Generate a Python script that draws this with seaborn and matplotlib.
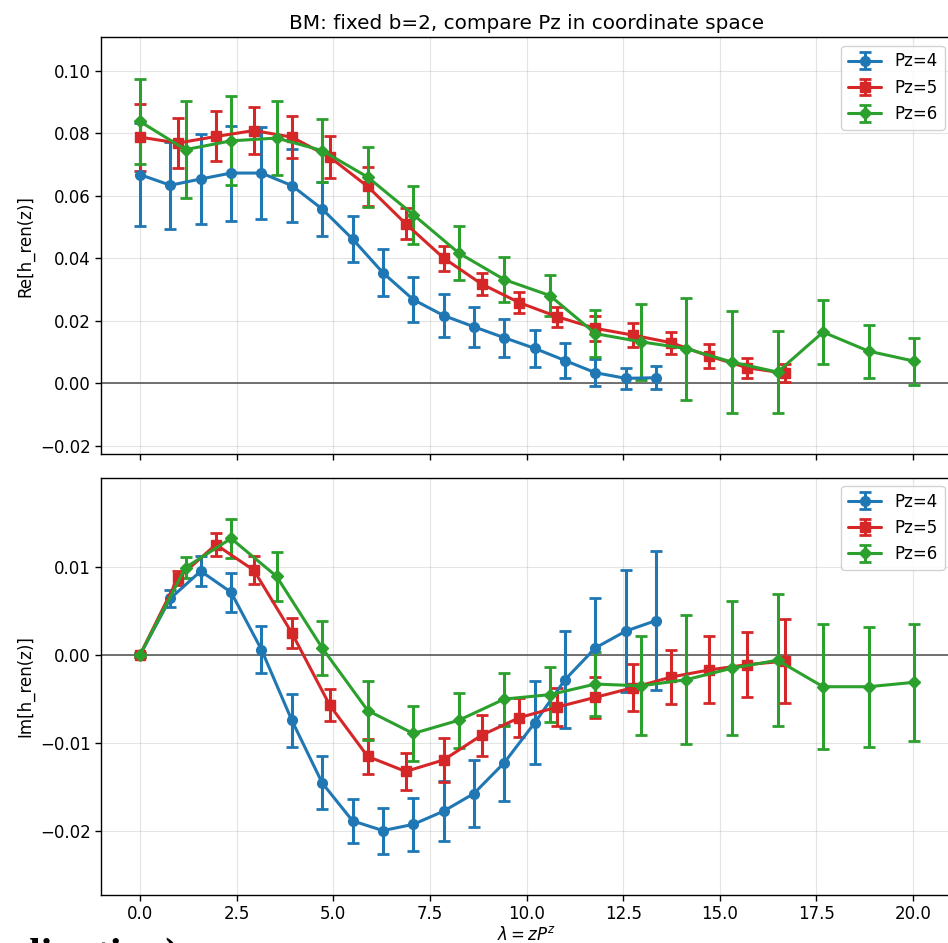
import matplotlib
matplotlib.use("Agg")
import matplotlib.pyplot as plt
import seaborn as sns

# ---------------- data ----------------
lam_pz4 = [0.0, 0.785, 1.571, 2.356, 3.142, 3.927, 4.712, 5.498, 6.283, 7.069,
           7.854, 8.639, 9.425, 10.210, 10.996, 11.781, 12.566, 13.352]
lam_pz5 = [0.0, 0.982, 1.963, 2.945, 3.927, 4.909, 5.890, 6.872, 7.854, 8.836,
           9.817, 10.799, 11.781, 12.763, 13.744, 14.726, 15.708, 16.690]
lam_pz6 = [0.0, 1.178, 2.356, 3.534, 4.712, 5.890, 7.069, 8.247, 9.425, 10.603,
           11.781, 12.959, 14.137, 15.315, 16.493, 17.671, 18.850, 20.028]

re_pz4 = [0.0668, 0.0634, 0.0654, 0.0673, 0.0673, 0.0633, 0.0558, 0.0462, 0.0354, 0.0268,
          0.0217, 0.0181, 0.0146, 0.0112, 0.0073, 0.0034, 0.0016, 0.0018]
re_err_pz4 = [0.0165, 0.0139, 0.0143, 0.0152, 0.0146, 0.0118, 0.0087, 0.0074, 0.0075, 0.0072,
              0.0069, 0.0064, 0.0061, 0.0059, 0.0055, 0.0043, 0.0033, 0.0037]
re_pz5 = [0.0788, 0.0769, 0.0790, 0.0809, 0.0788, 0.0724, 0.0630, 0.0511, 0.0401, 0.0318,
          0.0258, 0.0213, 0.0176, 0.0154, 0.0130, 0.0087, 0.0050, 0.0032]
re_err_pz5 = [0.0107, 0.0080, 0.0080, 0.0075, 0.0068, 0.0066, 0.0061, 0.0050, 0.0040, 0.0035,
              0.0033, 0.0032, 0.0039, 0.0038, 0.0035, 0.0038, 0.0032, 0.0029]
re_pz6 = [0.0838, 0.0748, 0.0776, 0.0785, 0.0745, 0.0660, 0.0540, 0.0417, 0.0332, 0.0281,
          0.0159, 0.0133, 0.0111, 0.0068, 0.0036, 0.0164, 0.0103, 0.0071]
re_err_pz6 = [0.0136, 0.0156, 0.0142, 0.0117, 0.0100, 0.0095, 0.0093, 0.0085, 0.0072, 0.0067,
              0.0075, 0.0121, 0.0163, 0.0163, 0.0131, 0.0102, 0.0085, 0.0075]

im_pz4 = [0.0, 0.0064, 0.0095, 0.0071, 0.0006, -0.0074, -0.0145, -0.0188, -0.0199, -0.0192,
          -0.0177, -0.0157, -0.0122, -0.0077, -0.0028, 0.0008, 0.0027, 0.0039]
im_err_pz4 = [0.0002, 0.0010, 0.0017, 0.0022, 0.0027, 0.0030, 0.0030, 0.0025, 0.0026, 0.0030,
              0.0034, 0.0038, 0.0043, 0.0047, 0.0055, 0.0057, 0.0069, 0.0079]
im_pz5 = [0.0, 0.0087, 0.0125, 0.0096, 0.0025, -0.0057, -0.0115, -0.0132, -0.0119, -0.0091,
          -0.0071, -0.0059, -0.0048, -0.0037, -0.0025, -0.0017, -0.0011, -0.0007]
im_err_pz5 = [0.0002, 0.0008, 0.0013, 0.0016, 0.0017, 0.0018, 0.0020, 0.0021, 0.0025, 0.0023,
              0.0022, 0.0022, 0.0023, 0.0027, 0.0031, 0.0038, 0.0037, 0.0048]
im_pz6 = [0.0, 0.0099, 0.0132, 0.0089, 0.0008, -0.0063, -0.0089, -0.0074, -0.0050, -0.0045,
          -0.0033, -0.0035, -0.0028, -0.0015, -0.0006, -0.0036, -0.0036, -0.0031]
im_err_pz6 = [0.0002, 0.0012, 0.0022, 0.0028, 0.0031, 0.0033, 0.0031, 0.0031, 0.0030, 0.0031,
              0.0036, 0.0056, 0.0073, 0.0076, 0.0075, 0.0071, 0.0068, 0.0066]

labels = ["Pz=4", "Pz=5", "Pz=6"]
markers = ["o", "s", "D"]

# ---------------- style ----------------
sns.set_theme(style="ticks")
plt.rcParams["font.family"] = ["DejaVu Sans"]
plt.rcParams["font.size"] = 12
plt.rcParams["text.color"] = "black"
plt.rcParams["axes.labelcolor"] = "black"
plt.rcParams["xtick.color"] = "black"
plt.rcParams["ytick.color"] = "black"
palette = sns.color_palette("tab10")
colors = [palette[0], palette[3], palette[2]]

fig = plt.figure(figsize=(9.48, 9.43), dpi=100)
ax1 = fig.add_axes([0.1065, 0.5186, 0.8987, 0.4417])
ax2 = fig.add_axes([0.1065, 0.0509, 0.8987, 0.4427], sharex=ax1)

xs = [lam_pz4, lam_pz5, lam_pz6]
re_vals = [re_pz4, re_pz5, re_pz6]
re_errs = [re_err_pz4, re_err_pz5, re_err_pz6]
im_vals = [im_pz4, im_pz5, im_pz6]
im_errs = [im_err_pz4, im_err_pz5, im_err_pz6]

for ax, vals, errs in [(ax1, re_vals, re_errs), (ax2, im_vals, im_errs)]:
    ax.axhline(0, color="0.35", lw=1.2, zorder=1)
    for x, y, e, lab, m, c in zip(xs, vals, errs, labels, markers, colors):
        ax.errorbar(x, y, yerr=e, label=lab, color=c, marker=m,
                    ms=7 if m != "D" else 6.5, lw=2.2, elinewidth=2.2,
                    capsize=4, capthick=2.0, zorder=3)
    ax.grid(True, alpha=0.3, color="0.65", lw=0.8)
    for sp in ax.spines.values():
        sp.set_color("black")
        sp.set_linewidth(1.0)
    ax.tick_params(axis="both", labelsize=12, colors="black", length=4, width=1)
    ax.legend(loc="upper right", fontsize=12, framealpha=0.85, edgecolor="0.8")

ax1.set_xlim(-1.01, 21.03)
ax1.set_ylim(-0.0226, 0.1107)
ax2.set_ylim(-0.0272, 0.0201)
ax1.set_yticks([-0.02, 0.0, 0.02, 0.04, 0.06, 0.08, 0.10])
ax2.set_yticks([-0.02, -0.01, 0.0, 0.01])
ax1.tick_params(axis="x", labelbottom=False)

ax1.set_ylabel("Re[h_ren(z)]", fontsize=12, color="black")
ax2.set_ylabel("Im[h_ren(z)]", fontsize=12, color="black")
ax2.set_xlabel(r"$\lambda = zP^z$", fontsize=12, labelpad=2, color="black")
ax1.set_title("BM: fixed b=2, compare Pz in coordinate space", fontsize=14.4,
              pad=6, color="black")

fig.text(179 / 948, 1 - 967 / 943, "(coordination)", ha="right", va="baseline",
         fontsize=30, fontweight="bold", color="black",
         family=["Liberation Serif", "DejaVu Serif"])

fig.savefig("out.png", dpi=100)
